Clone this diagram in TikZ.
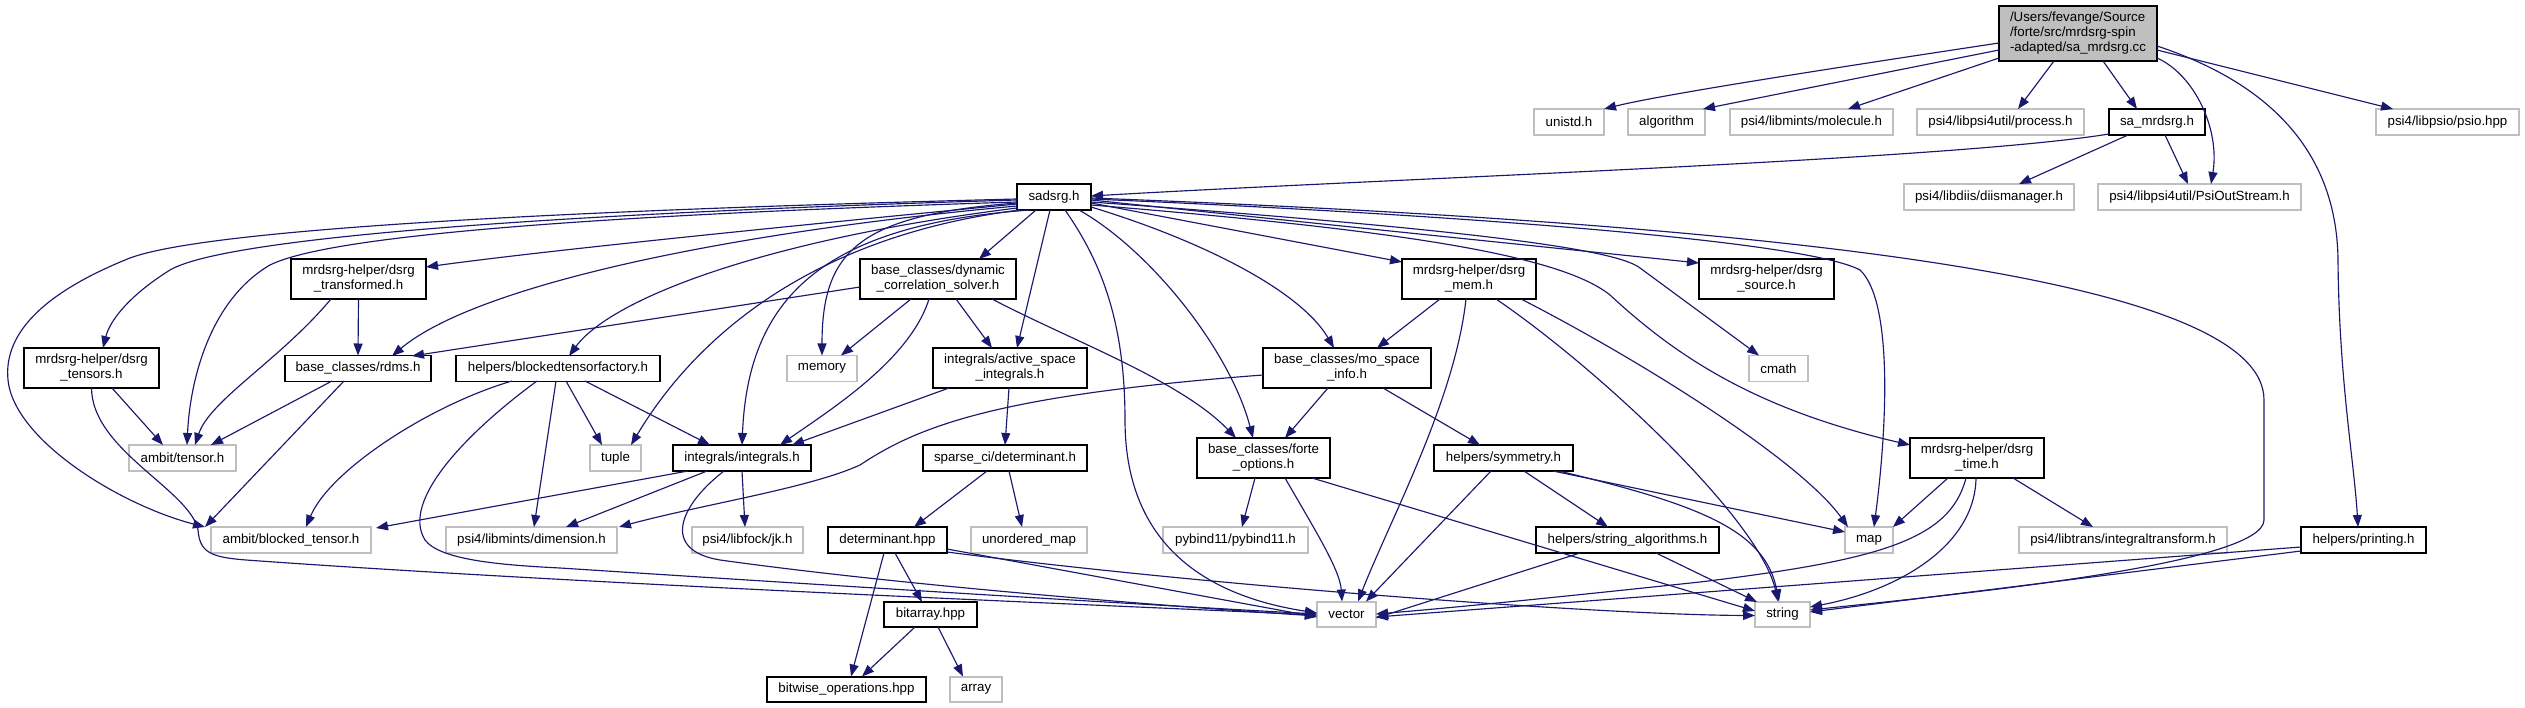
\documentclass[tikz,border=0pt]{standalone}
\usepackage{fontspec}
\setmainfont{Liberation Sans}
\usetikzlibrary{arrows.meta}
\definecolor{edgec}{HTML}{191970}
\definecolor{grayb}{HTML}{BFBFBF}
\begin{document}
\begin{tikzpicture}[x=1pt,y=-1pt,font=\fontsize{13.3}{15}\selectfont,
  box/.style={rectangle,inner sep=0pt,align=center,line width=1.4pt,minimum height=26pt},
  sysn/.style={box,draw=grayb},
  locn/.style={box,draw=black},
  twol/.style={minimum height=40pt},
  dep/.style={draw=edgec,line width=1.15pt,-{Triangle[length=12pt,width=9pt]}}]
\fill[white] (0,0) rectangle (2525,708);
\useasboundingbox (0,0) rectangle (2525,708);
% nodes
\node[box,draw=black,fill=grayb,align=left,minimum width=158pt,minimum height=55pt] (main) at (2078,33.5) {/Users/fevange/Source\\/forte/src/mrdsrg-spin\\-adapted/sa\_mrdsrg.cc};
\node[sysn,minimum width=70pt] (unistd) at (1569,122) {unistd.h};
\node[sysn,minimum width=77pt] (algorithm) at (1666.5,122) {algorithm};
\node[sysn,minimum width=163pt] (molecule) at (1811.5,122) {psi4/libmints/molecule.h};
\node[sysn,minimum width=167pt] (process) at (2000.5,122) {psi4/libpsi4util/process.h};
\node[locn,minimum width=96pt] (sa) at (2157,122) {sa\_mrdsrg.h};
\node[sysn,minimum width=143pt] (psio) at (2447.5,122) {psi4/libpsio/psio.hpp};
\node[sysn,minimum width=170pt] (diis) at (1989,197) {psi4/libdiis/diismanager.h};
\node[sysn,minimum width=203pt] (psiout) at (2199.5,197) {psi4/libpsi4util/PsiOutStream.h};
\node[locn,minimum width=74pt] (sadsrg) at (1054,197) {sadsrg.h};
\node[locn,twol,minimum width=135pt] (dtrans) at (358.5,279) {mrdsrg-helper/dsrg\\\_transformed.h};
\node[locn,twol,minimum width=156pt] (dcs) at (938,279) {base\_classes/dynamic\\\_correlation\_solver.h};
\node[locn,twol,minimum width=134pt] (dmem) at (1469,279) {mrdsrg-helper/dsrg\\\_mem.h};
\node[locn,twol,minimum width=135pt] (dsource) at (1766.5,279) {mrdsrg-helper/dsrg\\\_source.h};
\node[locn,twol,minimum width=135pt] (dtens) at (91.5,368) {mrdsrg-helper/dsrg\\\_tensors.h};
\node[locn,minimum width=146pt] (rdms) at (358,368.5) {base\_classes/rdms.h};
\node[locn,minimum width=204pt] (btf) at (558,368.5) {helpers/blockedtensorfactory.h};
\node[sysn,minimum width=70pt] (memory) at (822,368.5) {memory};
\node[locn,twol,minimum width=154pt] (asi) at (1010,368) {integrals/active\_space\\\_integrals.h};
\node[locn,twol,minimum width=168pt] (mospace) at (1347,368) {base\_classes/mo\_space\\\_info.h};
\node[sysn,minimum width=59pt] (cmath) at (1778.5,368.5) {cmath};
\node[sysn,minimum width=107pt] (atensor) at (182.5,458) {ambit/tensor.h};
\node[sysn,minimum width=51pt] (tuple) at (615.5,458) {tuple};
\node[locn,minimum width=138pt] (integrals) at (742,458) {integrals/integrals.h};
\node[locn,minimum width=164pt] (sdet) at (1005,458) {sparse\_ci/determinant.h};
\node[locn,twol,minimum width=133pt] (forte) at (1263.5,458) {base\_classes/forte\\\_options.h};
\node[locn,minimum width=139pt] (symmetry) at (1503.5,458) {helpers/symmetry.h};
\node[locn,twol,minimum width=134pt] (dtime) at (1977,458) {mrdsrg-helper/dsrg\\\_time.h};
\node[sysn,minimum width=160pt] (blocked) at (291,540) {ambit/blocked\_tensor.h};
\node[sysn,minimum width=171pt] (dimension) at (531.5,540) {psi4/libmints/dimension.h};
\node[sysn,minimum width=111pt] (jk) at (747.5,540) {psi4/libfock/jk.h};
\node[locn,minimum width=119pt] (dethpp) at (887.5,540) {determinant.hpp};
\node[sysn,minimum width=116pt] (umap) at (1029,540) {unordered\_map};
\node[sysn,minimum width=145pt] (pybind) at (1235.5,540) {pybind11/pybind11.h};
\node[locn,minimum width=183pt] (stralg) at (1627.5,540) {helpers/string\_algorithms.h};
\node[sysn,minimum width=48pt] (map) at (1869,540) {map};
\node[sysn,minimum width=208pt] (itrans) at (2123,540) {psi4/libtrans/integraltransform.h};
\node[locn,minimum width=125pt] (printing) at (2363.5,540) {helpers/printing.h};
\node[locn,minimum width=93pt,minimum height=25pt] (bitarray) at (930.5,614.5) {bitarray.hpp};
\node[sysn,minimum width=59pt,minimum height=25pt] (vector) at (1346.5,614.5) {vector};
\node[sysn,minimum width=55pt,minimum height=25pt] (string) at (1782.5,614.5) {string};
\node[locn,minimum width=159pt,minimum height=25pt] (bitwise) at (846.5,689.5) {bitwise\_operations.hpp};
\node[sysn,minimum width=52pt,minimum height=25pt] (array) at (976,689.5) {array};
% edges from main
\draw[dep] ([shift={(-79,9.5)}]main.center) .. controls (1820,70) and (1660,95) .. ([shift={(35,-13)}]unistd.center);
\draw[dep] ([shift={(-79,16.5)}]main.center) -- ([shift={(36.5,-13)}]algorithm.center);
\draw[dep] ([shift={(-79,24.5)}]main.center) -- ([shift={(36.5,-13)}]molecule.center);
\draw[dep] ([shift={(-24,27.5)}]main.center) -- ([shift={(17.5,-13)}]process.center);
\draw[dep] ([shift={(25,27.5)}]main.center) -- ([shift={(-20,-13)}]sa.center);
\draw[dep] ([shift={(79,24.5)}]main.center) .. controls (2195,75) and (2220,130) .. ([shift={(11.5,-13)}]psiout.center);
\draw[dep] ([shift={(79,16.5)}]main.center) -- ([shift={(-54.5,-13)}]psio.center);
\draw[dep] ([shift={(79,12.5)}]main.center) .. controls (2290,90) and (2337,170) .. (2338,260) .. controls (2339,380) and (2354,460) .. ([shift={(-5.5,-13)}]printing.center);
% sa_mrdsrg
\draw[dep] ([shift={(-48,12)}]sa.center) .. controls (1950,160) and (1400,178) .. ([shift={(37,-1)}]sadsrg.center);
\draw[dep] ([shift={(-29,13)}]sa.center) -- ([shift={(30,-13)}]diis.center);
\draw[dep] ([shift={(8,13)}]sa.center) -- ([shift={(-11.5,-13)}]psiout.center);
% sadsrg
\draw[dep] ([shift={(-37,7)}]sadsrg.center) .. controls (800,225) and (550,250) .. ([shift={(67.5,-12)}]dtrans.center);
\draw[dep] ([shift={(-37,3)}]sadsrg.center) .. controls (600,212) and (230,235) .. (170,270) .. controls (130,295) and (110,320) .. ([shift={(11.5,-20)}]dtens.center);
\draw[dep] ([shift={(-37,5)}]sadsrg.center) .. controls (600,215) and (330,235) .. (270,265) .. controls (210,300) and (190,380) .. ([shift={(4.5,-13)}]atensor.center);
\draw[dep] ([shift={(-37,2)}]sadsrg.center) .. controls (500,212) and (200,232) .. (130,258) .. controls (50,290) and (3,330) .. (8,380) .. controls (14,440) and (120,505) .. ([shift={(-86,-13)}]blocked.center);
\draw[dep] ([shift={(-37,9)}]sadsrg.center) .. controls (700,235) and (470,290) .. ([shift={(34,-12.5)}]rdms.center);
\draw[dep] ([shift={(-37,11)}]sadsrg.center) .. controls (760,240) and (610,300) .. ([shift={(11,-12.5)}]btf.center);
\draw[dep] ([shift={(-34,13)}]sadsrg.center) .. controls (820,235) and (700,330) .. ([shift={(15.5,-13)}]tuple.center);
\draw[dep] ([shift={(-24,13)}]sadsrg.center) .. controls (820,225) and (748,300) .. ([shift={(0,-13)}]integrals.center);
\draw[dep] ([shift={(-37,6)}]sadsrg.center) .. controls (860,215) and (822,250) .. ([shift={(0,-13)}]memory.center);
\draw[dep] ([shift={(-18,13)}]sadsrg.center) -- ([shift={(41,-20)}]dcs.center);
\draw[dep] ([shift={(-4,13)}]sadsrg.center) -- ([shift={(7,-20)}]asi.center);
\draw[dep] ([shift={(11,13)}]sadsrg.center) .. controls (1100,260) and (1125,320) .. (1125,420) .. controls (1125,540) and (1200,595) .. ([shift={(-29.5,-1.5)}]vector.center);
\draw[dep] ([shift={(25,13)}]sadsrg.center) .. controls (1150,250) and (1230,350) .. ([shift={(-10.5,-20)}]forte.center);
\draw[dep] ([shift={(37,10)}]sadsrg.center) .. controls (1200,240) and (1300,290) .. ([shift={(-13,-20)}]mospace.center);
\draw[dep] ([shift={(37,6)}]sadsrg.center) -- ([shift={(-67,-17)}]dmem.center);
\draw[dep] ([shift={(37,3)}]sadsrg.center) -- ([shift={(-67.5,-16)}]dsource.center);
\draw[dep] ([shift={(37,5)}]sadsrg.center) .. controls (1450,228) and (1615,248) .. (1640,268) -- ([shift={(-19.5,-13)}]cmath.center);
\draw[dep] ([shift={(37,8)}]sadsrg.center) .. controls (1400,230) and (1560,255) .. (1610,295) .. controls (1680,360) and (1760,410) .. ([shift={(-67,-13)}]dtime.center);
\draw[dep] ([shift={(37,2)}]sadsrg.center) .. controls (1400,212) and (1800,238) .. (1860,270) .. controls (1892,300) and (1888,420) .. ([shift={(5,-13)}]map.center);
\draw[dep] ([shift={(37,1)}]sadsrg.center) .. controls (1800,225) and (2264,280) .. (2264,400) -- (2264,520) .. controls (2264,565) and (1950,595) .. ([shift={(27.5,-4.5)}]string.center);
% dtrans, dtens
\draw[dep] ([shift={(-27.5,20)}]dtrans.center) .. controls (280,360) and (210,400) .. ([shift={(12.5,-13)}]atensor.center);
\draw[dep] ([shift={(0,20)}]dtrans.center) -- ([shift={(0,-13)}]rdms.center);
\draw[dep] ([shift={(20.5,20)}]dtens.center) -- ([shift={(-19.5,-13)}]atensor.center);
\draw[dep] ([shift={(0,20)}]dtens.center) .. controls (92,450) and (190,490) .. (198,530) .. controls (200,556) and (215,558) .. (260,561) .. controls (600,585) and (1100,605) .. ([shift={(-29.5,0.5)}]vector.center);
% rdms, btf
\draw[dep] ([shift={(-26,12.5)}]rdms.center) -- ([shift={(28.5,-13)}]atensor.center);
\draw[dep] ([shift={(-14,12.5)}]rdms.center) -- ([shift={(-86,-13)}]blocked.center);
\draw[dep] ([shift={(-46,12.5)}]btf.center) .. controls (430,405) and (330,470) .. ([shift={(15,-13)}]blocked.center);
\draw[dep] ([shift={(-21,12.5)}]btf.center) .. controls (470,430) and (400,500) .. (425,540) .. controls (440,560) and (500,565) .. (560,568) .. controls (900,590) and (1150,605) .. ([shift={(-29.5,-0.5)}]vector.center);
\draw[dep] ([shift={(-2,12.5)}]btf.center) -- ([shift={(2.5,-13)}]dimension.center);
\draw[dep] ([shift={(8,12.5)}]btf.center) -- ([shift={(-13.5,-13)}]tuple.center);
\draw[dep] ([shift={(27,12.5)}]btf.center) -- ([shift={(-32,-13)}]integrals.center);
% dcs, asi
\draw[dep] ([shift={(-78,8)}]dcs.center) -- ([shift={(54,-12.5)}]rdms.center);
\draw[dep] ([shift={(-27,20)}]dcs.center) -- ([shift={(19,-13)}]memory.center);
\draw[dep] ([shift={(-9,20)}]dcs.center) .. controls (910,360) and (830,410) .. ([shift={(38,-13)}]integrals.center);
\draw[dep] ([shift={(18,20)}]dcs.center) -- ([shift={(-18,-20)}]asi.center);
\draw[dep] ([shift={(54,20)}]dcs.center) .. controls (1070,340) and (1180,380) .. ([shift={(-27.5,-20)}]forte.center);
\draw[dep] ([shift={(-61,20)}]asi.center) -- ([shift={(50,-13)}]integrals.center);
\draw[dep] ([shift={(-1,20)}]asi.center) -- ([shift={(0,-13)}]sdet.center);
% dmem
\draw[dep] ([shift={(-29,20)}]dmem.center) -- ([shift={(30,-20)}]mospace.center);
\draw[dep] ([shift={(-3,20)}]dmem.center) .. controls (1455,400) and (1390,520) .. ([shift={(11.5,-13)}]vector.center);
\draw[dep] ([shift={(27,20)}]dmem.center) .. controls (1600,370) and (1760,520) .. ([shift={(-4.5,-13)}]string.center);
\draw[dep] ([shift={(52,20)}]dmem.center) .. controls (1640,360) and (1800,460) .. ([shift={(-21,-13)}]map.center);
% mospace
\draw[dep] ([shift={(-84,7)}]mospace.center) .. controls (1000,395) and (920,425) .. (860,465) .. controls (810,488) and (700,505) .. ([shift={(87.5,-13)}]dimension.center);
\draw[dep] ([shift={(-19,20)}]mospace.center) -- ([shift={(21.5,-20)}]forte.center);
\draw[dep] ([shift={(36,20)}]mospace.center) -- ([shift={(-23.5,-13)}]symmetry.center);
% forte
\draw[dep] ([shift={(-8.5,20)}]forte.center) -- ([shift={(6.5,-13)}]pybind.center);
\draw[dep] ([shift={(21.5,20)}]forte.center) .. controls (1315,530) and (1340,570) .. ([shift={(-4.5,-13)}]vector.center);
\draw[dep] ([shift={(48.5,20)}]forte.center) -- ([shift={(-27.5,-3.5)}]string.center);
% symmetry
\draw[dep] ([shift={(-12.5,13)}]symmetry.center) -- ([shift={(19.5,-13)}]vector.center);
\draw[dep] ([shift={(20.5,13)}]symmetry.center) -- ([shift={(-19.5,-13)}]stralg.center);
\draw[dep] ([shift={(49.5,13)}]symmetry.center) -- ([shift={(-24,-8)}]map.center);
\draw[dep] ([shift={(55.5,13)}]symmetry.center) .. controls (1700,505) and (1765,530) .. ([shift={(-3.5,-13)}]string.center);
% stralg
\draw[dep] ([shift={(-47.5,13)}]stralg.center) -- ([shift={(29.5,3.5)}]vector.center);
\draw[dep] ([shift={(28.5,13)}]stralg.center) -- ([shift={(-25.5,-12.5)}]string.center);
% dtime
\draw[dep] ([shift={(-29,20)}]dtime.center) -- ([shift={(24,-13)}]map.center);
\draw[dep] ([shift={(-11,20)}]dtime.center) .. controls (1950,540) and (1880,560) .. (1700,582) .. controls (1550,598) and (1450,608) .. ([shift={(29.5,-0.5)}]vector.center);
\draw[dep] ([shift={(-1,20)}]dtime.center) .. controls (1975,545) and (1900,590) .. ([shift={(27.5,-7.5)}]string.center);
\draw[dep] ([shift={(36,20)}]dtime.center) -- ([shift={(-30,-13)}]itrans.center);
% printing
\draw[dep] ([shift={(-62.5,7)}]printing.center) -- ([shift={(29.5,2.5)}]vector.center);
\draw[dep] ([shift={(-62.5,11)}]printing.center) -- ([shift={(27.5,-2.5)}]string.center);
% determinant
\draw[dep] ([shift={(-3.5,13)}]dethpp.center) -- ([shift={(4.5,-13)}]bitwise.center);
\draw[dep] ([shift={(7.5,13)}]dethpp.center) -- ([shift={(-8.5,-12.5)}]bitarray.center);
\draw[dep] ([shift={(59.5,9)}]dethpp.center) -- ([shift={(-29.5,2.5)}]vector.center);
\draw[dep] ([shift={(59.5,12)}]dethpp.center) .. controls (1200,585) and (1600,615) .. ([shift={(-27.5,1)}]string.center);
\draw[dep] ([shift={(-18,13)}]sdet.center) -- ([shift={(26.5,-13)}]dethpp.center);
\draw[dep] ([shift={(4,13)}]sdet.center) -- ([shift={(-7,-13)}]umap.center);
\draw[dep] ([shift={(-15.5,12.5)}]bitarray.center) -- ([shift={(15.5,-13)}]bitwise.center);
\draw[dep] ([shift={(7.5,12.5)}]bitarray.center) -- ([shift={(-13,-13)}]array.center);
% integrals
\draw[dep] ([shift={(-54,13)}]integrals.center) -- ([shift={(85,-12)}]blocked.center);
\draw[dep] ([shift={(-35,13)}]integrals.center) -- ([shift={(34.5,-13)}]dimension.center);
\draw[dep] ([shift={(-18,13)}]integrals.center) .. controls (680,505) and (660,550) .. (720,560) .. controls (900,585) and (1150,605) .. ([shift={(-29.5,1.5)}]vector.center);
\draw[dep] ([shift={(0,13)}]integrals.center) -- ([shift={(-2.5,-13)}]jk.center);
\end{tikzpicture}
\end{document}
